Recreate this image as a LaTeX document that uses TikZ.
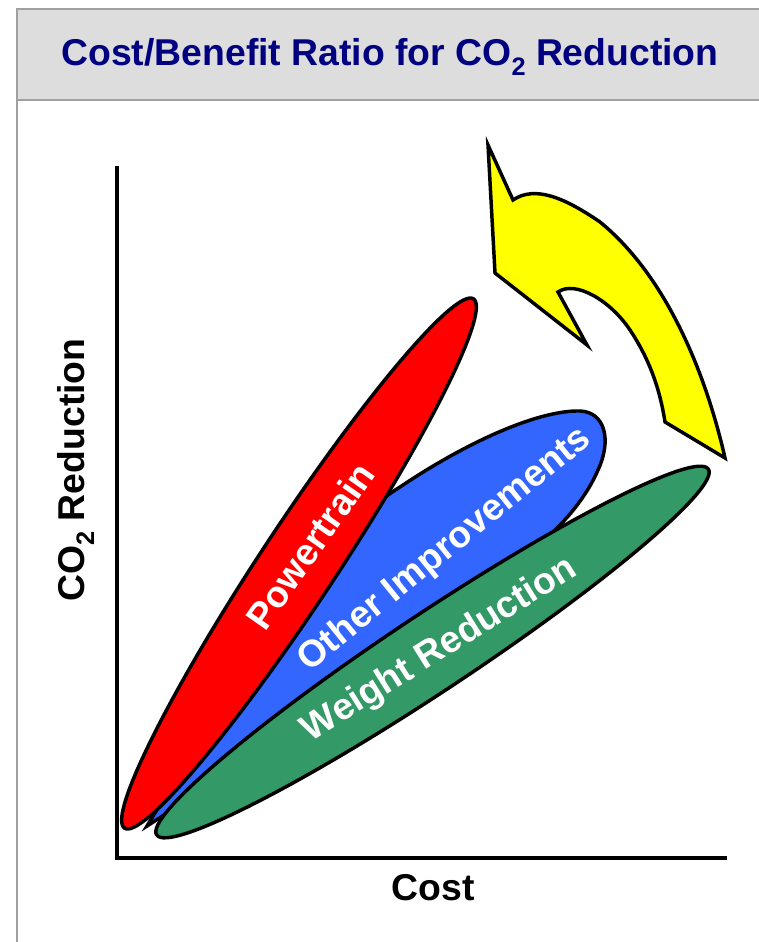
\documentclass[tikz,border=0pt]{standalone}
\usepackage{fontspec}
\setmainfont{Liberation Sans}
\usepackage{xcolor}
\usepackage{tikz}

\definecolor{titlenavy}{RGB}{0,0,128}
\definecolor{titlegray}{RGB}{221,221,221}
\definecolor{framegray}{RGB}{160,160,160}
\definecolor{ptred}{RGB}{255,0,0}
\definecolor{oiblue}{RGB}{51,102,255}
\definecolor{wrgreen}{RGB}{51,153,102}
\definecolor{arrowyellow}{RGB}{255,255,0}

\newcommand{\cotwo}{CO\raisebox{-0.25em}{\fontsize{19}{19}\selectfont 2}}

\begin{document}
\begin{tikzpicture}[x=0.75pt,y=-0.75pt,
                    blob/.style={draw=black,line width=2.6pt},
                    label text/.style={text=white,inner sep=0pt,font=\bfseries\fontsize{28}{33}\selectfont},
                    axis text/.style={text=black,inner sep=0pt,font=\bfseries\fontsize{28}{33}\selectfont}]

    \useasboundingbox (0,0) rectangle (759,942);

    % title bar and frame
    \draw[framegray,line width=1.5pt,fill=titlegray] (17,9) rectangle (775,100);
    \draw[framegray,line width=1.5pt] (17,100) -- (17,950);
    \node[anchor=base,inner sep=0pt,text=titlenavy,font=\bfseries\fontsize{28}{33}\selectfont] (title) at (390,66)
        {Cost/Benefit Ratio for \cotwo{} Reduction};

    % axes
    \coordinate (ytop) at (117,166);
    \coordinate (origin) at (117,858);
    \coordinate (xend) at (727,858);
    \draw[line width=3.5pt,line join=miter] (ytop) -- (origin) -- (xend);
    \node[axis text,anchor=base] (costlabel) at (433,900) {Cost};
    \node[axis text,rotate=90] (co2label) at (76,470) {\cotwo{} Reduction};

    % the three areas
    \draw[blob,fill=oiblue] (147,826) .. controls (260,640) and (330,530) .. (400,487)
        .. controls (470,440) and (540,410) .. (580,411)
        .. controls (605,412) and (612,440) .. (598,470)
        .. controls (585,500) and (560,530) .. (520,560)
        .. controls (400,650) and (250,760) .. (147,826) -- cycle;
    \draw[blob,fill=ptred,rotate around={56.6:(299,563.5)}] (299,563.5) ellipse [x radius=317, y radius=38];
    \draw[blob,fill=wrgreen,rotate around={33.55:(432.5,652)}] (432.5,652) ellipse [x radius=331, y radius=39];

    \node[label text,rotate=55] (powertrain) at (310,546) {Powertrain};
    \node[label text,rotate=39] (other) at (445,550) {Other Improvements};
    \node[label text,rotate=32] (weight) at (440,650) {Weight Reduction};

    % curved arrow
    \draw[blob,fill=arrowyellow,line join=miter] (488,145) -- (495,273) -- (587,345) -- (558,292)
        .. controls (575,280) and (610,300) .. (630,330)
        .. controls (650,360) and (660,390) .. (665,422) -- (725,458)
        .. controls (705,370) and (665,275) .. (600,222)
        .. controls (565,198) and (535,185) .. (513,200) -- cycle;
\end{tikzpicture}
\end{document}
